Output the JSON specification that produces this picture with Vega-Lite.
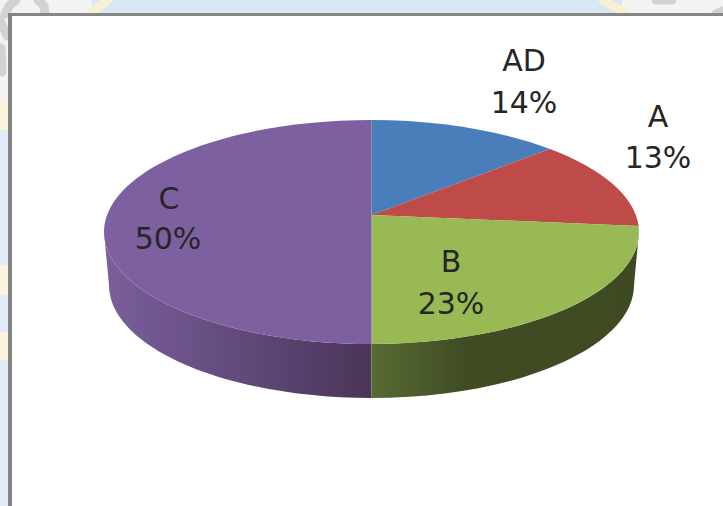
{
"$schema":"https://vega.github.io/schema/vega-lite/v6.json",
"width":723,"height":506,"autosize":{"type":"fit","contains":"padding"},"padding":0,
"background":"#d9e6f3",
"config":{"view":{"stroke":null}},
"resolve":{"scale":{"color":"independent"}},
"datasets":{
"wash":[{"x0":0,"x1":8,"y0":100,"y1":506,"part":"strip"},{"x0":0,"x1":92,"y0":0,"y1":14,"part":"pale"},{"x0":0,"x1":8,"y0":0,"y1":100,"part":"pale"},{"x0":622,"x1":723,"y0":0,"y1":14,"part":"pale"},{"x0":0,"x1":8,"y0":100,"y1":130,"part":"yellow"},{"x0":0,"x1":8,"y0":265,"y1":295,"part":"yellow"},{"x0":0,"x1":8,"y0":332,"y1":360,"part":"yellow"}],
"marks":[
{"g":"ring1","x":5,"y":14,"k":"grey"},{"g":"ring1","x":9,"y":6,"k":"grey"},{"g":"ring1","x":16,"y":0,"k":"grey"},
{"g":"ring2","x":38,"y":0,"k":"grey"},{"g":"ring2","x":44,"y":6,"k":"grey"},{"g":"ring2","x":45,"y":14,"k":"grey"},
{"g":"side","x":0,"y":20,"k":"grey"},{"g":"side","x":7,"y":36,"k":"grey"},
{"g":"side2","x":1,"y":48,"k":"grey"},{"g":"side2","x":2,"y":72,"k":"grey"},
{"g":"blob","x":656,"y":0,"k":"grey"},{"g":"blob","x":672,"y":0,"k":"grey"},
{"g":"corner","x":716,"y":14,"k":"grey"},{"g":"corner","x":723,"y":11,"k":"grey"},
{"g":"d1","x":108,"y":0,"k":"yellow"},{"g":"d1","x":89,"y":14,"k":"yellow"},
{"g":"d2","x":603,"y":0,"k":"yellow"},{"g":"d2","x":626,"y":14,"k":"yellow"}
],
"frame":[{"x0":8,"x1":723,"y0":13,"y1":506,"part":"border"},{"x0":12,"x1":723,"y0":16,"y1":506,"part":"panel"}],
"pie":[{"slice":"AD","share":14,"cx":371.5,"cy":232},{"slice":"A","share":13,"cx":371.5,"cy":232},{"slice":"B","share":23,"cx":371.5,"cy":232},{"slice":"C","share":50,"cx":371.5,"cy":232}],
"labels":[{"t":"AD","x":524,"y":71},{"t":"14%","x":524,"y":113},{"t":"A","x":658,"y":127},{"t":"13%","x":658,"y":168},{"t":"C","x":169,"y":209},{"t":"50%","x":168,"y":249},{"t":"B","x":451,"y":272},{"t":"23%","x":451,"y":314}]
},
"layer":[
{"data":{"name":"wash"},"mark":{"type":"rect"},
"encoding":{"x":{"field":"x0","type":"quantitative","scale":{"domain":[0,723],"nice":false,"zero":false},"axis":null},"x2":{"field":"x1"},"y":{"field":"y0","type":"quantitative","scale":{"domain":[0,506],"reverse":true,"nice":false,"zero":false},"axis":null},"y2":{"field":"y1"},
"color":{"field":"part","type":"nominal","scale":{"domain":["strip","pale","yellow"],"range":["#e2ebf7","#f3f3f3","#fbf4dd"]},"legend":null}}},
{"data":{"name":"marks"},"mark":{"type":"line","strokeWidth":9,"strokeCap":"round","strokeJoin":"round","clip":true},
"encoding":{"x":{"field":"x","type":"quantitative","scale":{"domain":[0,723],"nice":false,"zero":false},"axis":null},"y":{"field":"y","type":"quantitative","scale":{"domain":[0,506],"reverse":true,"nice":false,"zero":false},"axis":null},"detail":{"field":"g"},"order":{"field":"y"},
"color":{"field":"k","type":"nominal","scale":{"domain":["grey","yellow"],"range":["#d2d2d2","#f8f0d2"]},"legend":null}}},
{"data":{"name":"frame"},"mark":{"type":"rect"},
"encoding":{"x":{"field":"x0","type":"quantitative","scale":{"domain":[0,723],"nice":false,"zero":false},"axis":null},"x2":{"field":"x1"},"y":{"field":"y0","type":"quantitative","scale":{"domain":[0,506],"reverse":true,"nice":false,"zero":false},"axis":null},"y2":{"field":"y1"},
"color":{"field":"part","type":"nominal","scale":{"domain":["border","panel"],"range":["#858585","#ffffff"]},"legend":null}}},
{"data":{"name":"pie"},"transform":[{"filter":"datum.slice==='C'"}],
"mark":{"type":"point","filled":true,"opacity":1,"strokeWidth":0,"size":287296,"shape":"M-0.99813,0 L-0.97948,0.19776 A0.97948,0.42164 0 0,0 0,0.61940 L0,0.41791 A0.99813,0.41791 0 0,1 -0.99813,0 Z",
"fill":{"gradient":"linear","x1":0,"y1":0,"x2":1,"y2":0,"stops":[{"offset":0,"color":"#7a5f9a"},{"offset":0.5,"color":"#624a7c"},{"offset":1,"color":"#4a3558"}]}},
"encoding":{"x":{"field":"cx","type":"quantitative","scale":{"domain":[0,723],"nice":false,"zero":false},"axis":null},"y":{"field":"cy","type":"quantitative","scale":{"domain":[0,506],"reverse":true,"nice":false,"zero":false},"axis":null}}},
{"data":{"name":"pie"},"transform":[{"filter":"datum.slice==='B'"}],
"mark":{"type":"point","filled":true,"opacity":1,"strokeWidth":0,"size":287296,"shape":"M0,0.41791 L0,0.61940 A0.97948,0.42164 0 0,0 0.97948,0.19776 L0.99813,0 A0.99813,0.41791 0 0,1 0,0.41791 Z",
"fill":{"gradient":"linear","x1":0,"y1":0,"x2":1,"y2":0,"stops":[{"offset":0,"color":"#586b32"},{"offset":0.35,"color":"#404c24"},{"offset":1,"color":"#3d4a22"}]}},
"encoding":{"x":{"field":"cx","type":"quantitative","scale":{"domain":[0,723],"nice":false,"zero":false},"axis":null},"y":{"field":"cy","type":"quantitative","scale":{"domain":[0,506],"reverse":true,"nice":false,"zero":false},"axis":null}}},
{"data":{"name":"pie"},
"mark":{"type":"point","filled":true,"opacity":1,"strokeWidth":0,"size":287296},
"encoding":{"x":{"field":"cx","type":"quantitative","scale":{"domain":[0,723],"nice":false,"zero":false},"axis":null},"y":{"field":"cy","type":"quantitative","scale":{"domain":[0,506],"reverse":true,"nice":false,"zero":false},"axis":null},
"shape":{"field":"slice","type":"nominal","legend":null,"scale":{"domain":["AD","A","B","C"],"range":[
"M0,-0.06343 L0,-0.41791 A0.99813,0.41791 0 0,1 0.66604,-0.3097 Z",
"M0,-0.06343 L0.66604,-0.3097 A0.99813,0.41791 0 0,1 0.99664,-0.02239 Z",
"M0,-0.06343 L0.99664,-0.02239 A0.99813,0.41791 0 0,1 0,0.41791 Z",
"M0,-0.06343 L0,0.41791 A0.99813,0.41791 0 0,1 -0.99813,0 A0.99813,0.41791 0 0,1 0,-0.41791 Z"]}},
"color":{"field":"slice","type":"nominal","legend":null,"scale":{"domain":["AD","A","B","C"],"range":["#4a7ebb","#be4b48","#98b954","#7d60a0"]}}}},
{"data":{"name":"labels"},
"mark":{"type":"text","font":"DejaVu Sans","fontSize":30,"align":"center","baseline":"alphabetic","fill":"#262626"},
"encoding":{"x":{"field":"x","type":"quantitative","scale":{"domain":[0,723],"nice":false,"zero":false},"axis":null},"y":{"field":"y","type":"quantitative","scale":{"domain":[0,506],"reverse":true,"nice":false,"zero":false},"axis":null},"text":{"field":"t","type":"nominal"}}}
]
}
